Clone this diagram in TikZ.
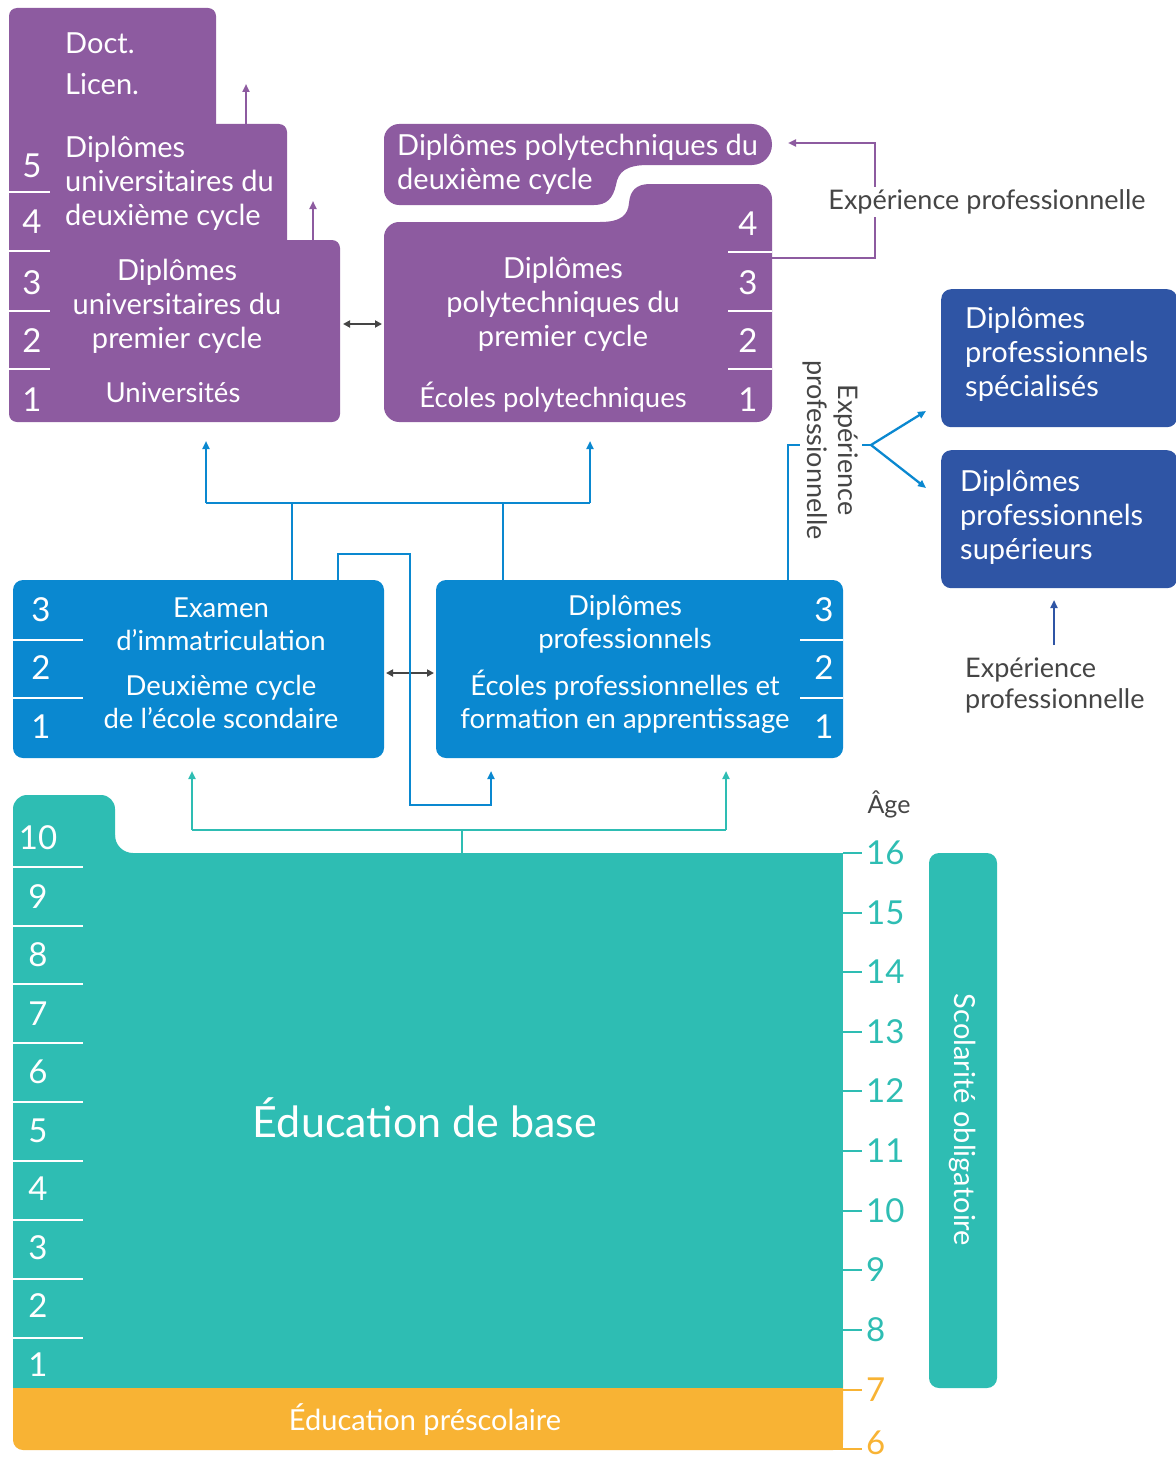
\documentclass[tikz,border=0pt]{standalone}
\usepackage{fontspec}
\setmainfont{Lato}
\usetikzlibrary{arrows.meta}
\definecolor{purp}{HTML}{8D5BA0}
\definecolor{blu}{HTML}{0A88D0}
\definecolor{dblu}{HTML}{2F55A5}
\definecolor{tealc}{HTML}{2EBDB3}
\definecolor{orng}{HTML}{F8B334}
\definecolor{gry}{HTML}{454545}
\begin{document}
\begin{tikzpicture}[x=1pt,y=-1pt,
  wtxt/.style={text=white,font=\fontsize{29}{34}\selectfont,inner sep=0pt,align=center},
  stxt/.style={text=white,font=\fontsize{27.5}{33}\selectfont,inner sep=0pt,align=center},
  num/.style={text=white,font=\fontsize{33}{34}\selectfont,inner sep=0pt},
  sepl/.style={white,line width=2.5pt},
  tip/.style={-{Triangle[length=8pt,width=7pt]}},
  pcon/.style={purp,line width=2pt},
  bcon/.style={blu,line width=2.3pt},
  dcon/.style={dblu,line width=2.3pt},
  tcon/.style={tealc,line width=2.3pt},
  gcon/.style={gry,line width=2.5pt,{Triangle[length=7pt,width=7pt]}-{Triangle[length=7pt,width=7pt]}},
  bbox/.style={fill=blu,rounded corners=10pt,inner sep=0pt},
  dbox/.style={fill=dblu,rounded corners=10pt,inner sep=0pt,anchor=north west,minimum width=236pt,minimum height=138pt},
  gtxt/.style={text=gry,font=\fontsize{27}{31}\selectfont,inner sep=0pt},
  agen/.style={font=\fontsize{33}{34}\selectfont,inner sep=0pt,anchor=west},
]
\useasboundingbox (0,0) rectangle (1175,1461);

% ---------- University block ----------
\fill[purp,rounded corners=8pt] (9,8) rectangle (216,160);
\fill[purp,rounded corners=8pt] (9,124) rectangle (287,270);
\fill[purp,rounded corners=8pt] (9,240) rectangle (340,422);
\node[wtxt,anchor=west] (doct) at (65,43) {Doct.};
\node[wtxt,anchor=west] (licen) at (65,84) {Licen.};
\node[wtxt,anchor=west,align=left] (ud2) at (65,183) {Diplômes\\universitaires du\\deuxième cycle};
\node[wtxt] (ud1) at (177,306) {Diplômes\\universitaires du\\premier cycle};
\node[stxt] (univ) at (173,393) {Universités};
\node[num] (u5) at (32,166) {5};
\node[num] (u4) at (32,222) {4};
\node[num] (u3) at (32,283) {3};
\node[num] (u2) at (32,341) {2};
\node[num] (u1) at (32,400) {1};
\draw[sepl] (9,192) -- (50,192);
\draw[sepl] (9,251) -- (50,251);
\draw[sepl] (9,311) -- (50,311);
\draw[sepl] (9,369) -- (50,369);
\coordinate (ua0) at (246,124); \coordinate (ua1) at (246,84);
\coordinate (ub0) at (313,240); \coordinate (ub1) at (313,201);
\draw[pcon,tip] (ua0) -- (ua1);
\draw[pcon,tip] (ub0) -- (ub1);

% ---------- Polytechnic block ----------
\fill[purp] (399,124) -- (752,124) .. controls (763,124) and (772,133) .. (772,144.5)
  .. controls (772,156) and (763,165) .. (752,165) -- (648,165)
  .. controls (626,165) and (618,172) .. (616,185) .. controls (613,198) and (607,205) .. (594,205)
  -- (399,205) .. controls (391,205) and (384,198) .. (384,190) -- (384,139)
  .. controls (384,131) and (391,124) .. (399,124) -- cycle;
\fill[purp] (399,222) -- (600,222) .. controls (621,222) and (628,215) .. (629,203)
  .. controls (630,191) and (636,184) .. (650,184) -- (757,184)
  .. controls (765,184) and (772,191) .. (772,199) -- (772,407)
  .. controls (772,415) and (765,422) .. (757,422) -- (399,422)
  .. controls (391,422) and (384,415) .. (384,407) -- (384,237)
  .. controls (384,229) and (391,222) .. (399,222) -- cycle;
\node[wtxt,anchor=west,align=left] (pd2) at (397,164) {Diplômes polytechniques du\\deuxième cycle};
\node[wtxt] (pd1) at (563,304) {Diplômes\\polytechniques du\\premier cycle};
\node[stxt] (poly) at (553,397) {Écoles polytechniques};
\node[num] (p4) at (748,224) {4};
\node[num] (p3) at (748,283) {3};
\node[num] (p2) at (748,341) {2};
\node[num] (p1) at (748,400) {1};
\draw[sepl] (728,252) -- (772,252);
\draw[sepl] (728,311) -- (772,311);
\draw[sepl] (728,369) -- (772,369);

\coordinate (g1) at (343,324); \coordinate (g2) at (382,324);
\draw[gcon] (g1) -- (g2);

% purple experience connector
\coordinate (pe0) at (772,258); \coordinate (pe1) at (875,200); \coordinate (pe2) at (788,143);
\draw[pcon,tip] (pe0) -| (pe1) |- (pe2);
\node[gtxt,fill=white,inner sep=3pt] (exp1) at (987,202) {Expérience professionnelle};

% ---------- Secondary blocks ----------
\node[bbox,minimum width=371pt,minimum height=178pt] (sec) at (198.5,669) {};
\node[bbox,minimum width=407pt,minimum height=178pt] (voc) at (639.5,669) {};
\node[stxt] (exam) at (221,624) {Examen\\d’immatriculation};
\node[stxt] (dcyc) at (221,702) {Deuxième cycle\\de l’école scondaire};
\node[stxt] (dprof) at (625,624) {Diplômes\\professionnels};
\node[stxt] (eprof) at (625,702) {Écoles professionnelles et\\formation en apprentissage};
\node[num] (s3) at (41,610) {3};
\node[num] (s2) at (41,668) {2};
\node[num] (s1) at (41,727) {1};
\node[num] (v3) at (824,610) {3};
\node[num] (v2) at (824,668) {2};
\node[num] (v1) at (824,727) {1};
\draw[sepl] (13,640) -- (83,640);
\draw[sepl] (13,698) -- (83,698);
\draw[sepl] (800,640) -- (843,640);
\draw[sepl] (800,698) -- (843,698);

\coordinate (g3) at (386,673); \coordinate (g4) at (434,673);
\draw[gcon] (g3) -- (g4);

% blue connectors to higher education
\coordinate (bs0) at (292,580); \coordinate (bs1) at (292,503);
\coordinate (bv0) at (503,580); \coordinate (bv1) at (503,503);
\coordinate (bh1) at (206,503); \coordinate (bh2) at (590,503);
\coordinate (bt1) at (206,441); \coordinate (bt2) at (590,441);
\draw[bcon] (bs0) -- (bs1);
\draw[bcon] (bv0) -- (bv1);
\draw[bcon] (bh1) -- (bh2);
\draw[bcon,tip] (bh1) -- (bt1);
\draw[bcon,tip] (bh2) -- (bt2);

% cross connector
\coordinate (x0) at (338,580); \coordinate (x1) at (338,554); \coordinate (x2) at (410,554);
\coordinate (x3) at (410,805); \coordinate (x4) at (491,805); \coordinate (x5) at (491,771);
\draw[bcon,tip] (x0) -- (x1) -- (x2) -- (x3) -- (x4) -- (x5);

% vocational to professional diplomas
\coordinate (e0) at (788,580); \coordinate (e1) at (788,445); \coordinate (br) at (871,445);
\coordinate (ea) at (926,411); \coordinate (eb) at (926,488);
\draw[bcon] (e0) -- (e1) -- (br);
\draw[bcon,tip] (br) -- (ea);
\draw[bcon,tip] (br) -- (eb);
\node[gtxt,fill=white,inner sep=3pt,rotate=-90,align=center] (exp2) at (831,450) {Expérience\\professionnelle};

% ---------- Professional diplomas ----------
\node[dbox] (spec) at (941,289) {};
\node[dbox] (sup) at (941,450) {};
\node[wtxt,anchor=west,align=left] (spect) at (965,354) {Diplômes\\professionnels\\spécialisés};
\node[wtxt,anchor=west,align=left] (supt) at (960,517) {Diplômes\\professionnels\\supérieurs};
\coordinate (d0) at (1054,645); \coordinate (d1) at (1054,600);
\draw[dcon,tip] (d0) -- (d1);
\node[gtxt,anchor=west,align=left] (exp3) at (965,685) {Expérience\\professionnelle};

% ---------- Basic education ----------
\fill[orng,rounded corners=10pt] (13,1370) rectangle (843,1450);
\fill[orng] (800,1400) rectangle (843,1450);
\fill[tealc,rounded corners=14pt] (13,795) rectangle (115,880);
\fill[tealc] (13,853) rectangle (843,1388);
\fill[tealc] (115,835) -- (115,853) -- (133,853) .. controls (123,853) and (115,845) .. (115,835) -- cycle;
\node[text=white,font=\fontsize{43}{46}\selectfont,inner sep=0pt] (base) at (425,1118) {Éducation de base};
\node[text=white,font=\fontsize{29}{32}\selectfont,inner sep=0pt] (presc) at (425,1420) {Éducation préscolaire};
\foreach \n/\yy in {10/838,9/897,8/955,7/1014,6/1072,5/1131,4/1189,3/1248,2/1306,1/1365}{
  \node[num] (g\n) at (38,\yy) {\n};
}
\foreach \yy in {867,926,984,1043,1102,1161,1220,1279,1338}{
  \draw[sepl] (13,\yy) -- (83,\yy);
}
\coordinate (t0) at (462,853); \coordinate (tm) at (462,830);
\coordinate (tl) at (192,830); \coordinate (tr) at (726,830);
\coordinate (tl1) at (192,771); \coordinate (tr1) at (726,771);
\draw[tcon] (t0) -- (tm);
\draw[tcon] (tl) -- (tr);
\draw[tcon,tip] (tl) -- (tl1);
\draw[tcon,tip] (tr) -- (tr1);

% ---------- Age scale ----------
\node[gtxt,font=\fontsize{25}{28}\selectfont] (age) at (889,804) {Âge};
\foreach \a/\yy in {16/853,15/913,14/972,13/1032,12/1091,11/1151,10/1211,9/1270,8/1330}{
  \draw[tealc,line width=2pt] (843,\yy) -- (862,\yy);
  \node[agen,text=tealc] (a\a) at (866,\yy) {\a};
}
\coordinate (o7) at (843,1390); \coordinate (o6) at (843,1449);
\draw[orng,line width=2pt] (o7) -- ++(19,0);
\draw[orng,line width=2pt] (o6) -- ++(19,0);
\node[agen,text=orng] (a7) at (866,1390) {7};
\node[agen,text=orng] (a6) at (866,1443) {6};
\node[fill=tealc,rounded corners=10pt,minimum width=68pt,minimum height=535pt,inner sep=0pt] (scol) at (963,1120.5) {};
\node[text=white,font=\fontsize{29}{32}\selectfont,inner sep=0pt,rotate=-90] (scolt) at (963,1120) {Scolarité obligatoire};
\end{tikzpicture}
\end{document}
